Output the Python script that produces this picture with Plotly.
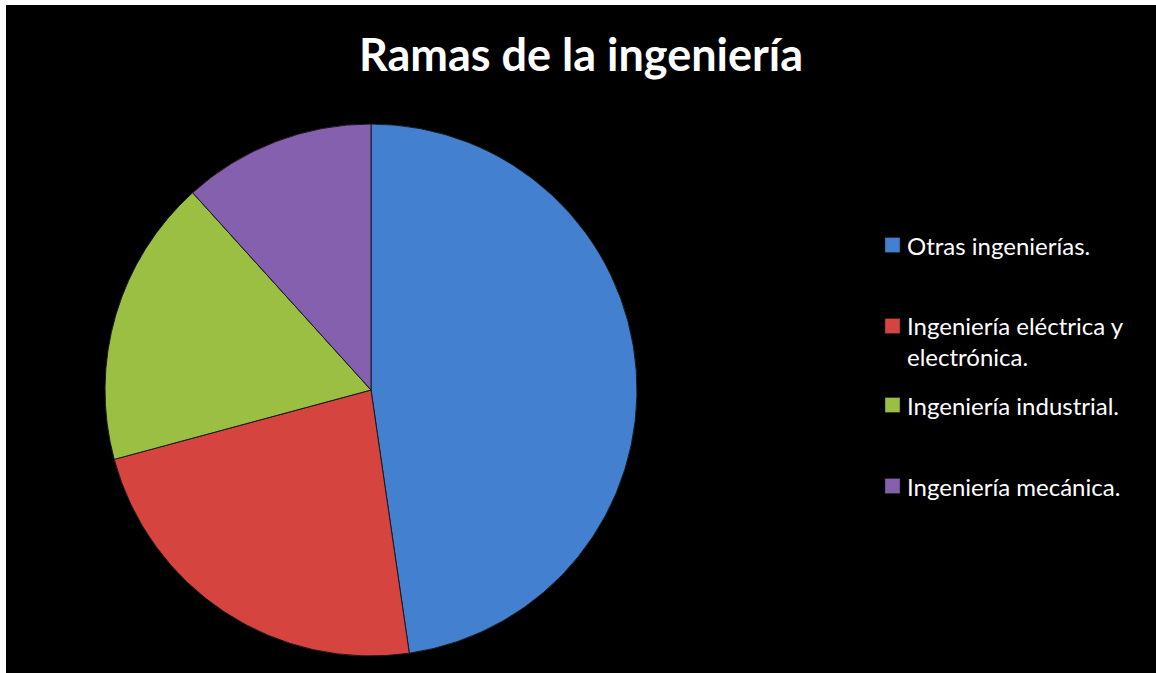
import plotly.graph_objects as go

# Share of each engineering branch (percent)
ramas = [
    "Otras ingenierías.",
    "Ingeniería eléctrica y electrónica.",
    "Ingeniería industrial.",
    "Ingeniería mecánica.",
]
valores = [47.7, 23.1, 17.5, 11.7]
colores = ["#4380d0", "#d6443f", "#9bbf42", "#8560ae"]

# Legend labels as drawn (second one wraps onto two lines)
etiquetas_leyenda = [
    "Otras ingenierías.",
    "Ingeniería eléctrica y<br>electrónica.",
    "Ingeniería industrial.",
    "Ingeniería mecánica.",
]

W, H = 1156, 673
FONT = "Lato, 'Open Sans', sans-serif"

fig = go.Figure()
fig.add_trace(go.Pie(
    labels=ramas,
    values=valores,
    sort=False,
    direction="clockwise",
    rotation=0,
    textinfo="none",
    hoverinfo="label+percent",
    marker=dict(colors=colores, line=dict(color="#1a1a1a", width=1)),
    domain=dict(x=[105 / W, 637 / W], y=[1 - 656 / H, 1 - 124 / H]),
    showlegend=False,
))

# Hand-placed legend: swatch squares plus text, matching slice colours
leyenda_y = [245, 341, 405, 486]
swatch_y = [245, 326, 405, 486]
shapes = []
annotations = []
for etiqueta, color, ty, sy in zip(etiquetas_leyenda, colores, leyenda_y, swatch_y):
    shapes.append(dict(
        type="rect", xref="paper", yref="paper",
        x0=885 / W, x1=900 / W,
        y0=1 - (sy + 7.5) / H, y1=1 - (sy - 7.5) / H,
        fillcolor=color, line=dict(color="#202020", width=0.5),
    ))
    annotations.append(dict(
        text=etiqueta, xref="paper", yref="paper",
        x=905 / W, y=1 - ty / H, xanchor="left", yanchor="middle",
        align="left", showarrow=False,
        font=dict(family=FONT, size=24, color="white"),
    ))

# Thin white frame on the top and left edges
shapes.append(dict(type="rect", xref="paper", yref="paper", x0=0, x1=6 / W, y0=0, y1=1,
                   fillcolor="white", line=dict(width=0)))
shapes.append(dict(type="rect", xref="paper", yref="paper", x0=0, x1=1, y0=1 - 5 / H, y1=1,
                   fillcolor="white", line=dict(width=0)))

fig.update_layout(
    width=W, height=H,
    margin=dict(l=0, r=0, t=0, b=0),
    paper_bgcolor="black",
    plot_bgcolor="black",
    title=dict(
        text="<b>Ramas de la ingeniería</b>",
        x=581 / W, xanchor="center",
        y=1 - 55 / H, yanchor="middle",
        font=dict(family=FONT, size=45, color="white"),
    ),
    shapes=shapes,
    annotations=annotations,
)

fig.write_html("out.html")
